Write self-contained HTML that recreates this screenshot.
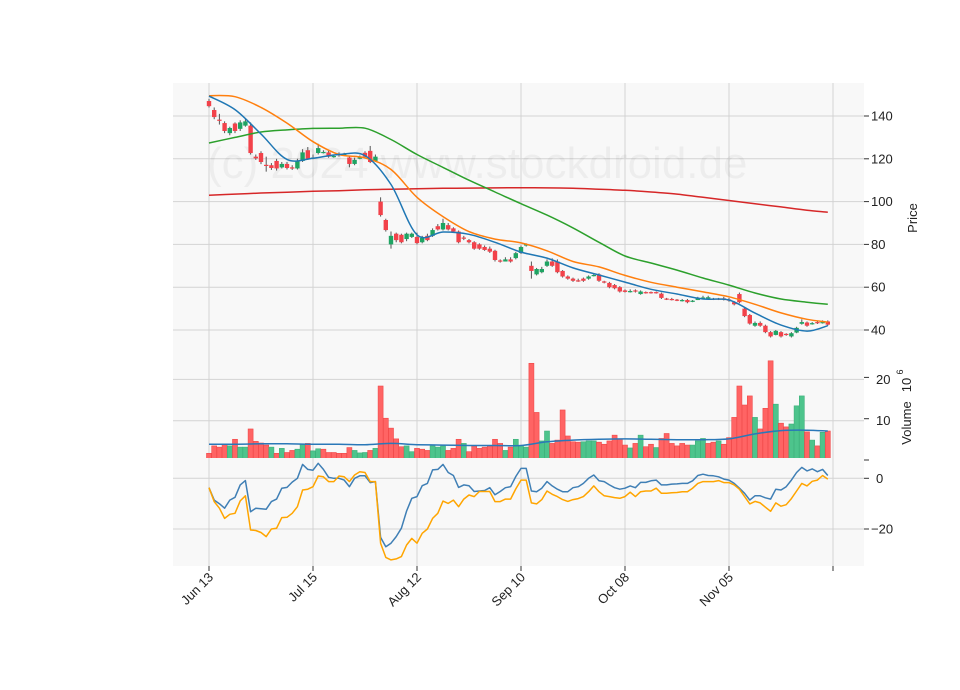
<!DOCTYPE html>
<html><head><meta charset="utf-8"><style>
html,body{margin:0;padding:0;background:#fff;}
svg{display:block;font-family:"Liberation Sans",sans-serif;}
</style></head><body>
<svg id="chart" width="960" height="690" viewBox="0 0 960 690" xmlns="http://www.w3.org/2000/svg">
<rect x="0" y="0" width="960" height="690" fill="#fff"/>
<g id="panels"></g>
<text x="207" y="178" font-size="44" fill="rgba(0,0,0,0.045)">(c) 2024 www.stockdroid.de</text>
<g id="marks"></g>
<g id="axes"></g>
</svg>
<script>
// ---- data ----
const xTickLabels = ["Jun 13","Jul 15","Aug 12","Sep 10","Oct 08","Nov 05",""];
const xTickIdx = [0,20,40,60,80,100,120];
const priceTicks = [40,60,80,100,120,140];
const volTicks = [0,10,20];
const oscTicks = [0,-20];
const opens = [147,142.8,138.3,136.7,132,136.5,134,135.5,135.5,121,122.7,117.2,117,119,116,117.6,116,115.5,119,124,
120.2,122.7,122.8,123,121,122.2,122,120.6,117.6,120.2,122.8,123.7,119,100,91.4,80,85,84.5,82.5,83.5,
83.5,81,84,84,88.5,87,89,87.5,86,83.2,82,81,80,78.8,78,77,72.5,72,73,73.6,
76,79.5,70,66,67,70,72,72,67.6,65,64,63.2,64,64,65.3,66,62.7,62,61,60,
58.5,57.8,58.5,56.8,57.7,57.7,57.7,57,54.7,54.5,54.2,53.5,54,53.3,54,54.8,54.8,54.7,54.7,54.8,
54.3,53,56.8,50,47,42,43.3,42,39,37.7,39,38.2,37,38.8,42.9,43.5,42.8,43.7,43.3,44];
const closes = [144.6,139.5,137.9,133,134.4,133,137,137.5,122.7,120.2,118.5,116.8,115.7,115.5,117.6,115.7,115.5,119,123,120,
120.6,125,123.2,121,121.3,121.8,122.3,117.6,119.5,120.6,121,118.5,121,93.7,86.7,84,82,81,85,85,
80.6,83,82,86.7,87,90,87,86,81,82.8,81,78,78,77.4,76.6,72.7,72,73,72,75.9,
78.8,80,67.6,68.5,68.5,72,70,67,65,64,63,62.8,63,65,65.7,63,62.3,60,59.5,58,
57.8,58.2,58,58,57.3,57.3,57.3,55,54.3,54.1,53.8,54,53,53.7,55,55.2,55.3,54.3,54.3,54.2,
53.7,52,53,46.5,43,43.3,42,39,37,39.6,37,37.8,38.5,41,43.7,42,43.2,43.3,43.7,42.5];
const highs = [148,144,141,137.5,135,137,138,138.5,137,122,123.5,121,118,120,118.5,118.5,117,120,124.5,125.5,
122,127,124,124,122,123,122.8,121.5,120.5,121.5,123.5,126,122,102,92,86,85.5,85,85.5,85.5,
85.5,84,85,87.5,89.5,92,90,88,86.5,84,82.5,81.5,80.5,79.5,79,77.5,73,74,74,76.5,
79.5,80.5,72,69,69.5,73,73.5,73,68,65.5,64.5,64,64.5,65.5,66.5,66.5,63,62.5,61.5,60.5,
59,59,59,58.5,58,58,58,57.5,55,55,54.5,54.5,54.5,54,55.5,56,56,55,55,55.5,
55,53.5,57.5,50.5,47.5,44,44,42.5,39.5,40,39.5,38.5,39,41.5,45,44,43.7,44,44.5,44.5];
const lows = [144,138.5,136,132,131,132,133,135,122,119.5,117.5,114,114.8,114.5,115.5,115,114.8,115,118.5,119.5,
119.8,122,122.5,120.5,120.5,121,121.5,116,117,119.8,120.5,118,118.5,93,86,78,81,80.5,81.5,83,
80,80.5,81.5,83.5,86.5,86.5,86.5,85.5,80.5,82,80.5,77.5,77.5,77,76,72,71.5,72,71.5,73,
75.5,79,64,65.5,66.5,69.5,69.5,66.5,64.5,63.5,62.5,62.5,62.5,63.5,65,62.5,61.8,59.5,59,57.5,
57.5,57.5,57.5,56.5,57,57,57,54.5,54,53.8,53.5,53.3,52.5,53,54,54.8,54.8,54,54,53.8,
53.2,51.5,52.5,46,42.5,41.5,41.5,38.5,36.5,37.5,36.5,37.3,36.5,38.5,42.5,41.5,42.5,42.8,43,42];
const volumes = [2.1,3.9,3.6,4.2,3.9,5.5,3.6,3.6,8.0,5.0,4.6,4.1,3.6,2.1,3.3,2.3,2.8,3.1,4.4,4.5,
2.7,3.2,3.1,2.3,2.3,2.1,2.1,3.5,2.8,2.2,2.3,2.8,3.3,18.4,10.6,8.2,5.6,3.7,3.9,2.5,
3.3,3.1,2.8,3.9,3.6,3.9,2.8,3.3,5.5,4.5,2.5,3.9,3.3,3.6,3.9,5.5,4.5,2.8,3.6,5.5,
4.0,3.6,23.9,12.0,5.1,7.5,4.5,5.3,12.6,6.3,4.9,4.8,4.9,5.1,5.1,4.8,4.3,5.1,6.5,5.6,
4.1,3.4,4.5,6.5,3.7,4.3,3.5,5.7,6.9,4.5,3.9,4.5,4.1,4.1,5.1,5.7,4.5,4.8,5.1,4.3,
5.9,10.8,18.4,13.8,16.0,10.8,8.0,13.0,24.5,14.0,9.4,8.5,9.2,13.6,16.0,7.3,5.3,3.9,7.2,7.5];
const volUp = [0,0,0,0,1,0,1,1,0,0,0,0,1,0,1,0,0,1,1,0, 1,1,0,0,0,0,0,0,1,1,1,0,1,0,0,0,0,0,1,1,
0,0,0,1,1,1,0,0,0,1,0,0,0,0,0,0,0,1,0,1, 1,1,0,0,1,1,0,0,0,0,0,0,1,1,1,0,0,0,0,0,
0,1,0,1,0,0,1,0,0,0,0,0,0,1,1,1,0,0,1,0, 0,0,0,0,0,1,0,0,0,1,0,0,1,1,1,0,1,0,1,0];
const maIdx = [0,5,10,15,20,25,30,35,40,45,50,55,60,65,70,75,80,85,90,95,100,105,110,115,119];
const ma10 = [149.3,143,131.6,119.7,120.3,122,121.5,108,84.5,85.8,84.7,81,76.4,73.6,69,65.7,62.4,59,56.8,54.5,54,47.9,42.3,39.5,42];
const ma20 = [149.5,149,144,136.7,128,122,120.4,115,102,93,86,82.5,80.7,77,72,69.5,65.5,62.3,60,57.8,55.5,52,48,45,43.7];
const ma50 = [127.4,130,132.5,133.5,134.2,134.3,134.3,129,122,116,110,104.5,99,93.7,87.7,81,74.6,71.3,68,64.3,61,57.3,54.5,53,52];
const ma200 = [103,103.5,104,104.4,104.8,105.1,105.5,105.8,106,106.2,106.3,106.4,106.5,106.4,106.2,105.8,105.3,104.5,103.5,102,100.5,99,97.5,96,95];
const volMa = [4.3,4.3,4.4,4.4,4.3,4.3,4.2,4.5,4.2,4.1,4.0,4.0,4.0,4.9,5.3,5.5,5.6,5.5,5.4,5.4,5.6,6.8,7.6,7.7,7.5];
const oscA = [-3.7,-8.6,-10,-11.8,-8.6,-7.5,-2.6,-0.9,-13.2,-11.8,-12,-12.2,-9.2,-8.2,-3.9,-3.6,-1.5,0,5.5,3.5,
3.2,5.9,3.5,0.4,0,0,-0.7,-3.3,0,1,1,-1.7,-1.3,-23.3,-27,-25.6,-23,-19.7,-12.9,-7.9,
-7.2,-2.9,-2,3.3,3.5,5.5,2.3,1.1,-3.6,-2.6,-2.9,-5.2,-5,-4.8,-3.7,-6.5,-5.2,-3.7,-3.3,0.7,
3.9,3.9,-5,-5.3,-3.9,-1.3,-3,-4.3,-5.3,-5.3,-3.7,-3.3,-2,0,1.3,-1,-1.3,-2.6,-3.7,-4.3,
-3.9,-3,-3.7,-1.6,-1.6,-1,-0.7,-2.6,-2.6,-2.3,-2.2,-2,-2,-1,1.1,1.6,1.1,1,0.6,-0.3,
-0.7,-2,-3.9,-5.9,-8.6,-6.9,-6.9,-7.7,-8.2,-4.3,-4.6,-3.3,-0.7,2.3,4.3,2.9,3.7,2.6,3.5,1.1];
const oscB = [-3.7,-9.2,-11.8,-15.8,-14.2,-13.8,-8.9,-6.9,-20.4,-20.6,-21.4,-23,-20,-19.7,-15.5,-15.4,-13.8,-11.2,-4.6,-4.3,
-3.3,0.9,0.6,-1.3,-1.3,0.9,0.6,-1.3,1.3,2.6,2.3,-1.3,-1.3,-25.6,-31.2,-32.2,-31.8,-30.9,-26.3,-23.7,
-25.6,-21.7,-20,-15.8,-13.8,-9,-9.9,-8.6,-11.2,-8.2,-6.6,-7.2,-5.2,-5.2,-5.2,-9.2,-9.2,-8.2,-8.2,-4.2,
-0.7,-0.7,-9.7,-10.1,-8.4,-5,-6.3,-7.2,-8.4,-9.1,-8.4,-8,-7.2,-5.3,-3,-5.3,-6.9,-7.2,-7.6,-7.9,
-7.2,-5.5,-7.2,-5.3,-5,-5,-3.9,-5.9,-5.9,-5.7,-5.6,-5.3,-5.3,-3.9,-2,-1.3,-1.3,-1.3,-0.9,-1.7,
-1.7,-2.6,-4.3,-7.2,-10.1,-9.1,-9.7,-11.4,-13,-9.7,-11,-10.4,-8,-5,-2,-3,-1.2,-0.7,1.1,-0.3];

// ---- scales ----
const L=173,R=864, P1T=83,P1B=352,P2B=458,P3B=566;
const xs = i => 209 + 5.2*i;
const yP = p => 330 - (p-40)*2.14;
const yV = v => 462 - v*4.13;
const yO = o => 478.3 - o*2.535;
const NS="http://www.w3.org/2000/svg";
function mk(tag, attrs, parent){const e=document.createElementNS(NS,tag);for(const k in attrs)e.setAttribute(k,attrs[k]);parent.appendChild(e);return e;}
const panels=document.getElementById('panels'), marks=document.getElementById('marks'), axes=document.getElementById('axes');

[[P1T,P1B,'price-panel'],[P1B,P2B,'volume-panel'],[P2B,P3B,'oscillator-panel']].forEach(([t,b,n])=>{
  const r=mk('rect',{x:L,y:t,width:R-L,height:b-t,fill:'#f8f8f8'},panels);
  
  
});
xTickIdx.forEach(i=>{ mk('line',{x1:xs(i),x2:xs(i),y1:P1T,y2:P3B,stroke:'#d3d3d3','stroke-width':1},panels); });
priceTicks.forEach(p=>mk('line',{x1:L,x2:R,y1:yP(p),y2:yP(p),stroke:'#d3d3d3'},panels));
volTicks.slice(1).forEach(v=>mk('line',{x1:L,x2:R,y1:yV(v),y2:yV(v),stroke:'#d3d3d3'},panels));
oscTicks.forEach(o=>mk('line',{x1:L,x2:R,y1:yO(o),y2:yO(o),stroke:'#d3d3d3'},panels));

const defs=mk('defs',{},marks);
const cp=mk('clipPath',{id:'vclip'},defs); mk('rect',{x:L,y:P1B,width:R-L,height:P2B-P1B},cp);
const cp3=mk('clipPath',{id:'oclip'},defs); mk('rect',{x:L,y:P2B,width:R-L,height:P3B-P2B},cp3);

const vg=mk('g',{'clip-path':'url(#vclip)'},marks);
volumes.forEach((v,i)=>{
  const up=volUp[i]===1;
  const b=mk('rect',{x:xs(i)-2.5,y:yV(v),width:5,height:462-yV(v),fill:up?'#4dc48c':'#ff6464',stroke:up?'#3db07a':'#f04848','stroke-width':0.6},vg);
  
  
});
function line(vals, idx, yf, color, w, g, name){
  const pts=vals.map((v,k)=>xs(idx?idx[k]:k).toFixed(1)+','+yf(v).toFixed(1)).join(' ');
  const pl=mk('polyline',{points:pts,fill:'none',stroke:color,'stroke-width':w,'stroke-linejoin':'round'},g);
  
  
}
function smooth(vals, idx, yf, color, w, g, name){
  const P=vals.map((v,k)=>[xs(idx[k]),yf(v)]);
  let d='M'+P[0][0].toFixed(1)+','+P[0][1].toFixed(1);
  for(let k=0;k<P.length-1;k++){
    const p0=P[Math.max(0,k-1)],p1=P[k],p2=P[k+1],p3=P[Math.min(P.length-1,k+2)];
    const c1=[p1[0]+(p2[0]-p0[0])/6,p1[1]+(p2[1]-p0[1])/6];
    const c2=[p2[0]-(p3[0]-p1[0])/6,p2[1]-(p3[1]-p1[1])/6];
    d+=` C${c1[0].toFixed(1)},${c1[1].toFixed(1)} ${c2[0].toFixed(1)},${c2[1].toFixed(1)} ${p2[0].toFixed(1)},${p2[1].toFixed(1)}`;
  }
  const pa=mk('path',{d:d,fill:'none',stroke:color,'stroke-width':w},g);
  
  
}
smooth(volMa, maIdx, yV, '#2a78b8', 1.5, vg, 'volume-ma-line');

opens.forEach((o,i)=>{
  const c=closes[i], up=c>=o, col=up?'#1fa463':'#f2424a';
  const g=mk('g',{},marks);
  
  
  mk('line',{x1:xs(i),x2:xs(i),y1:yP(highs[i]),y2:yP(lows[i]),stroke:'#555','stroke-width':1},g);
  const top=yP(Math.max(o,c)), h=Math.max(1.2,Math.abs(yP(o)-yP(c)));
  mk('rect',{x:xs(i)-2.2,y:top,width:4.4,height:h,fill:col},g);
});
smooth(ma200, maIdx, yP, '#d62728', 1.5, marks, 'sma200-line');
smooth(ma50, maIdx, yP, '#2ca02c', 1.5, marks, 'sma50-line');
smooth(ma20, maIdx, yP, '#ff7f0e', 1.5, marks, 'sma20-line');
smooth(ma10, maIdx, yP, '#1f77b4', 1.5, marks, 'sma10-line');

const og=mk('g',{'clip-path':'url(#oclip)'},marks);
line(oscA, null, yO, '#3f7fb5', 1.5, og, 'oscillator-line-a');
line(oscB, null, yO, '#ffa500', 1.5, og, 'oscillator-line-b');

function txt(s,x,y,attrs,name){const t=mk('text',Object.assign({x:x,y:y,'font-size':13,fill:'#222'},attrs||{}),axes);t.textContent=s;
  
  
  return t;}
priceTicks.forEach(p=>{mk('line',{x1:R,x2:R+5,y1:yP(p),y2:yP(p),stroke:'#333'},axes);txt(String(p),R+7,yP(p)+4.5,{},'price-tick-label');});
volTicks.forEach(v=>{mk('line',{x1:R,x2:R+5,y1:yV(v)-2,y2:yV(v)-2,stroke:'#333'},axes);});
[[10,420.7],[20,379.3]].forEach(([v,y])=>txt(String(v),R+12,y+4.5,{},'volume-tick-label'));
oscTicks.forEach(o=>{mk('line',{x1:R,x2:R+5,y1:yO(o),y2:yO(o),stroke:'#333'},axes);txt(o===0?'0':'\u221220',o===0?R+12:R+7,yO(o)+4.5,{},'oscillator-tick-label');});
xTickIdx.forEach((i,k)=>{
  mk('line',{x1:xs(i),x2:xs(i),y1:P3B,y2:P3B+5,stroke:'#333'},axes);
  if(xTickLabels[k]){txt(xTickLabels[k],0,0,{'text-anchor':'end',transform:`translate(${xs(i)+5},${P3B+12}) rotate(-45)`},'x-tick-label');}
});
txt('Price',0,0,{transform:'translate(917,218) rotate(-90)','text-anchor':'middle'},'price-axis-title');
txt('Volume',0,0,{transform:'translate(911,423) rotate(-90)','text-anchor':'middle'},'volume-axis-title');
txt('10',0,0,{transform:'translate(911,385) rotate(-90)','text-anchor':'middle'},'volume-scale-label');
txt('6',0,0,{transform:'translate(903,372) rotate(-90)','text-anchor':'middle','font-size':9},'volume-scale-exponent');
</script>
</body></html>
